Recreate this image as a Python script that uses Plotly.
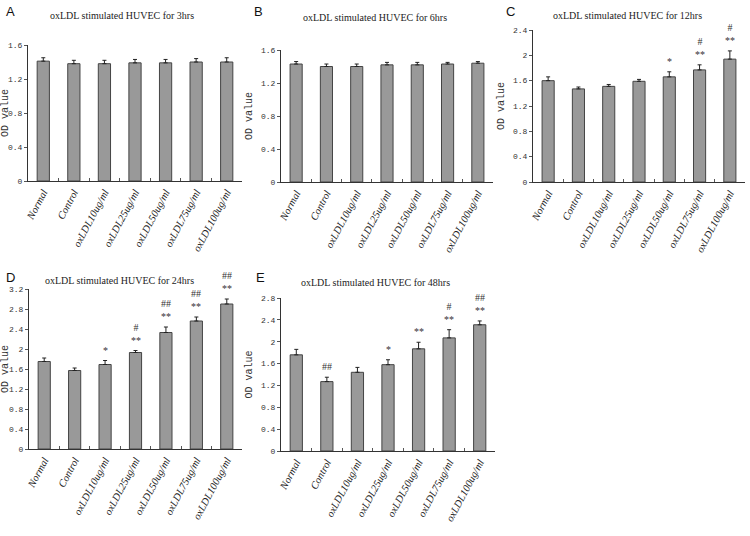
import plotly.graph_objects as go

W, H = 750, 536

categories = ["Normal", "Control", "oxLDL10ug/ml", "oxLDL25ug/ml",
              "oxLDL50ug/ml", "oxLDL75ug/ml", "oxLDL100ug/ml"]

# Panel A: 3 hrs
a_vals = [1.41, 1.38, 1.38, 1.39, 1.39, 1.40, 1.40]
a_err = [0.04, 0.04, 0.04, 0.04, 0.04, 0.04, 0.05]
a_marks = ["", "", "", "", "", "", ""]
# Panel B: 6 hrs
b_vals = [1.43, 1.40, 1.40, 1.42, 1.42, 1.43, 1.44]
b_err = [0.03, 0.03, 0.03, 0.03, 0.03, 0.02, 0.02]
b_marks = ["", "", "", "", "", "", ""]
# Panel C: 12 hrs
c_vals = [1.60, 1.47, 1.51, 1.59, 1.66, 1.77, 1.94]
c_err = [0.06, 0.03, 0.03, 0.03, 0.08, 0.08, 0.13]
c_marks = ["", "", "", "", "*", "#<br>**", "#<br>**"]
# Panel D: 24 hrs
d_vals = [1.75, 1.57, 1.69, 1.93, 2.33, 2.56, 2.90]
d_err = [0.07, 0.05, 0.08, 0.04, 0.11, 0.08, 0.10]
d_marks = ["", "", "*", "#<br>**", "##<br>**", "##<br>**", "##<br>**"]
# Panel E: 48 hrs
e_vals = [1.76, 1.27, 1.44, 1.58, 1.87, 2.07, 2.31]
e_err = [0.10, 0.08, 0.09, 0.09, 0.12, 0.15, 0.07]
e_marks = ["", "##", "", "*", "**", "#<br>**", "##<br>**"]

titles = ["oxLDL stimulated HUVEC for 3hrs", "oxLDL stimulated HUVEC for 6hrs",
          "oxLDL stimulated HUVEC for 12hrs", "oxLDL stimulated HUVEC for 24hrs",
          "oxLDL stimulated HUVEC for 48hrs"]
letters = ["A", "B", "C", "D", "E"]
y_max = [1.6, 1.6, 2.4, 3.2, 2.8]

# layout in pixels: (x0, x1, y_top, y_bottom)
boxes = [(28, 242, 45, 181), (281, 493, 50, 182), (533, 745, 30, 182),
         (29, 242, 289, 449), (281, 495, 298, 451)]
title_pos = [(122, 16), (375, 17), (627, 15), (119, 280), (375, 282)]
letter_pos = [(4, 12), (252, 12), (504, 12), (4, 277), (254, 277)]

panels = [(a_vals, a_err, a_marks), (b_vals, b_err, b_marks), (c_vals, c_err, c_marks),
          (d_vals, d_err, d_marks), (e_vals, e_err, e_marks)]

fig = go.Figure()
layout = dict(width=W, height=H, margin=dict(l=0, r=0, t=0, b=0),
              paper_bgcolor="white", plot_bgcolor="white", showlegend=False)
annotations = []

for i, (vals, errs, marks) in enumerate(panels):
    n = "" if i == 0 else str(i + 1)
    xa, ya = "x" + n, "y" + n
    x0, x1, yt, yb = boxes[i]
    fig.add_trace(go.Bar(
        x=categories, y=vals, xaxis=xa, yaxis=ya,
        marker=dict(color="#999999", line=dict(color="#444444", width=1)),
        error_y=dict(type="data", array=errs, arrayminus=[0] * len(errs),
                     symmetric=False, color="#222222", thickness=1, width=2),
        width=0.4,
    ))
    layout["xaxis" + n] = dict(
        domain=[x0 / W, x1 / W], anchor=ya, type="category", automargin=False,
        showline=True, linecolor="#333333", linewidth=1,
        ticks="inside", tickson="boundaries", ticklen=3, tickcolor="#555555",
        tickangle=-62, showgrid=False, zeroline=False,
        tickfont=dict(family="Liberation Serif", size=10.5, color="#222222", style="italic"),
    )
    layout["yaxis" + n] = dict(
        domain=[1 - yb / H, 1 - yt / H], anchor=xa, range=[0, y_max[i]],
        automargin=False,
        dtick=0.4, tick0=0, showline=True, linecolor="#333333", linewidth=1,
        ticks="outside", ticklen=3, tickcolor="#555555", showgrid=False,
        zeroline=False,
        tickfont=dict(family="Liberation Mono", size=8, color="#333333"),
        title=dict(text="OD value", standoff=6,
                   font=dict(family="Liberation Mono", size=10, color="#333333")),
    )
    for c, v, e, m in zip(categories, vals, errs, marks):
        if m:
            annotations.append(dict(
                x=c, y=v + e, xref=xa, yref=ya, text=m, showarrow=False,
                yanchor="bottom", yshift=3,
                font=dict(family="Liberation Serif", size=10, color="#333333"),
            ))
    tx, ty = title_pos[i]
    annotations.append(dict(
        x=tx / W, y=1 - ty / H, xref="paper", yref="paper", text=titles[i],
        showarrow=False, xanchor="center", yanchor="middle",
        font=dict(family="Liberation Serif", size=10, color="#222222"),
    ))
    lx, ly = letter_pos[i]
    annotations.append(dict(
        x=lx / W, y=1 - ly / H, xref="paper", yref="paper", text=letters[i],
        showarrow=False, xanchor="left", yanchor="middle",
        font=dict(family="Liberation Sans", size=13, color="#111111"),
    ))

layout["annotations"] = annotations
fig.update_layout(**layout)
fig.write_html("out.html", config={"displayModeBar": False},
               post_script="document.body.style.margin='0';document.body.style.overflow='hidden';")
